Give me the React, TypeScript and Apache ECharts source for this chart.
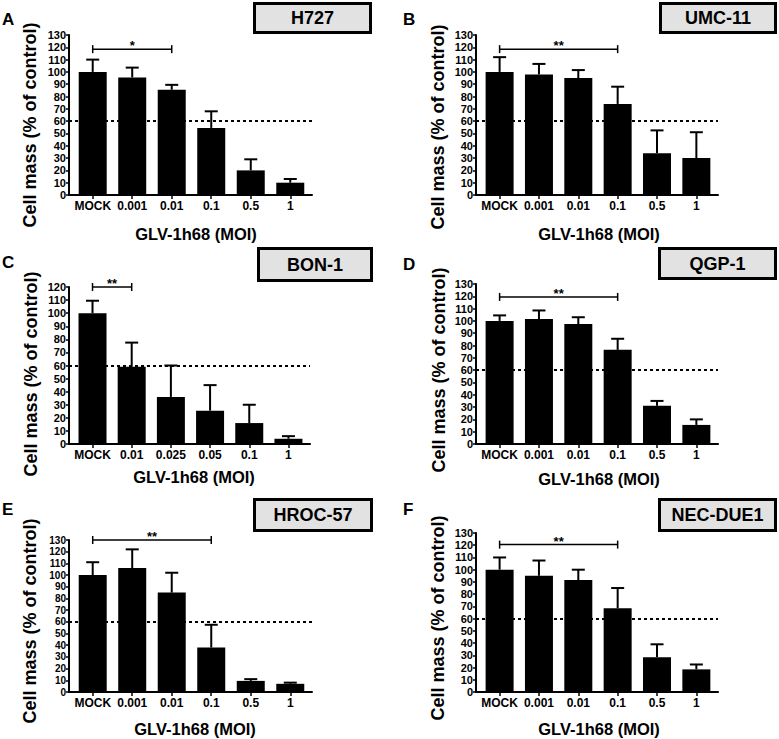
import React, { useEffect, useRef } from 'react';
import * as echarts from 'echarts';

const catsMOI = ['MOCK', '0.001', '0.01', '0.1', '0.5', '1'];
const catsBON1 = ['MOCK', '0.01', '0.025', '0.05', '0.1', '1'];

const yTicks130 = [0, 10, 20, 30, 40, 50, 60, 70, 80, 90, 100, 110, 120, 130];
const yTicks120 = [0, 10, 20, 30, 40, 50, 60, 70, 80, 90, 100, 110, 120];

const h727Mean = [100, 95.5, 85.5, 54.5, 20, 10];
const h727Err = [10, 8, 4, 13.5, 9, 3];
const umc11Mean = [100, 98, 95, 74, 34, 30];
const umc11Err = [12, 8.5, 6.5, 14, 18.5, 21];
const bon1Mean = [100, 59, 36, 25.5, 16, 4];
const bon1Err = [9.5, 18.5, 24, 19.5, 14, 2];
const qgp1Mean = [100, 101.5, 97.5, 76.5, 31, 15.5];
const qgp1Err = [4.5, 7, 5.5, 9, 4, 4.5];
const hroc57Mean = [100, 106, 85, 38, 9.5, 7];
const hroc57Err = [11, 16, 17, 19.5, 1.5, 1];
const necdue1Mean = [100, 95, 91.5, 68.5, 28.5, 18.5];
const necdue1Err = [10, 12.5, 8.5, 16.5, 10.5, 4];

const cellLines = ['H727', 'UMC-11', 'BON-1', 'QGP-1', 'HROC-57', 'NEC-DUE1'];
const panelLetters = ['A', 'B', 'C', 'D', 'E', 'F'];
const sigLabels = ['*', '**', '**', '**', '**', '**'];
const sigFrom = [0, 0, 0, 0, 0, 0];
const sigTo = [2, 3, 1, 3, 3, 3];
const sigLevel = [118.5, 118.5, 120, 119.5, 130, 120.5];
const threshold = 60;
const xTitle = 'GLV-1h68 (MOI)';
const yTitle = 'Cell mass (% of control)';

const means = [h727Mean, umc11Mean, bon1Mean, qgp1Mean, hroc57Mean, necdue1Mean];
const errs = [h727Err, umc11Err, bon1Err, qgp1Err, hroc57Err, necdue1Err];
const cats = [catsMOI, catsMOI, catsBON1, catsMOI, catsMOI, catsMOI];
const yTicks = [yTicks130, yTicks130, yTicks120, yTicks130, yTicks130, yTicks130];

const layouts = [
  { left: 69, top: 35, width: 243, height: 160, box: [253, 2, 372, 34], letter: [2, 19], yt: [30, 125], xt: [196, 234], yFont: 11 },
  { left: 476, top: 35, width: 242, height: 160, box: [659, 2, 777, 34], letter: [403, 19], yt: [438, 127], xt: [599, 234], yFont: 11 },
  { left: 69, top: 287, width: 241, height: 157, box: [257, 247, 373, 282], letter: [2, 262], yt: [31, 374], xt: [194, 477], yFont: 11 },
  { left: 476, top: 284, width: 242, height: 160, box: [658, 247, 777, 280], letter: [403, 264], yt: [439, 370], xt: [599, 479], yFont: 11 },
  { left: 69, top: 540, width: 243, height: 152, box: [253, 498, 373, 532], letter: [2, 509], yt: [30, 621], xt: [195, 729], yFont: 10 },
  { left: 476, top: 533, width: 242, height: 159, box: [658, 498, 777, 532], letter: [403, 509], yt: [438, 618], xt: [599, 729], yFont: 11 },
];

const FONT = '"Liberation Sans", Arial, Helvetica, sans-serif';

function buildOption() {
  const grid: any[] = [];
  const xAxis: any[] = [];
  const yAxis: any[] = [];
  const series: any[] = [];
  const graphic: any[] = [];

  layouts.forEach((L, p) => {
    grid.push({ left: L.left, top: L.top, width: L.width, height: L.height, containLabel: false });
    const c = cats[p];
    const idx = c.map((_, i) => i);
    const yt = yTicks[p];
    xAxis.push({
      gridIndex: p,
      type: 'value',
      min: -0.6,
      max: 5.55,
      splitLine: { show: false },
      axisLine: { show: true, onZero: false, lineStyle: { color: '#000', width: 2 } },
      axisTick: { show: true, customValues: idx, length: 4, lineStyle: { color: '#000', width: 1.5 } },
      axisLabel: {
        customValues: idx,
        formatter: (v: number) => c[Math.round(v)],
        color: '#000',
        fontWeight: 'bold',
        fontSize: 12,
        fontFamily: FONT,
        margin: 5,
        showMinLabel: true,
        showMaxLabel: true,
      },
    });
    yAxis.push({
      gridIndex: p,
      type: 'value',
      min: 0,
      max: yt[yt.length - 1],
      interval: 10,
      splitLine: { show: false },
      axisLine: { show: true, onZero: false, lineStyle: { color: '#000', width: 2 } },
      axisTick: { show: true, interval: 0, customValues: yt, length: 3, lineStyle: { color: '#000', width: 1.5 } },
      axisLabel: {
        customValues: yt,
        interval: 0,
        color: '#000',
        fontWeight: 'bold',
        fontSize: L.yFont,
        lineHeight: 9,
        fontFamily: FONT,
        margin: 3,
        showMinLabel: true,
        showMaxLabel: true,
        hideOverlap: false,
      },
    });
    series.push({
      type: 'bar',
      xAxisIndex: p,
      yAxisIndex: p,
      barWidth: 28,
      itemStyle: { color: '#000' },
      data: means[p].map((m, i) => [i, m]),
      markLine: {
        silent: true,
        symbol: 'none',
        label: { show: false },
        lineStyle: { color: '#000', width: 2, type: [3, 3] },
        data: [{ yAxis: threshold }],
      },
    });
    series.push({
      type: 'custom',
      xAxisIndex: p,
      yAxisIndex: p,
      data: means[p].map((m, i) => [i, m, errs[p][i]]),
      renderItem: (params: any, api: any) => {
        const x = api.value(0);
        const m = api.value(1);
        const e = api.value(2);
        const p0 = api.coord([x, m]);
        const p1 = api.coord([x, m + e]);
        return {
          type: 'group',
          children: [
            { type: 'line', shape: { x1: p0[0], y1: p0[1], x2: p1[0], y2: p1[1] }, style: { stroke: '#000', lineWidth: 2 } },
            { type: 'line', shape: { x1: p1[0] - 6.5, y1: p1[1], x2: p1[0] + 6.5, y2: p1[1] }, style: { stroke: '#000', lineWidth: 2 } },
          ],
        };
      },
    });
    series.push({
      type: 'custom',
      xAxisIndex: p,
      yAxisIndex: p,
      data: [[sigFrom[p], sigTo[p], sigLevel[p]]],
      renderItem: (params: any, api: any) => {
        const a = api.coord([api.value(0), api.value(2)]);
        const b = api.coord([api.value(1), api.value(2)]);
        return {
          type: 'group',
          children: [
            { type: 'line', shape: { x1: a[0], y1: a[1], x2: b[0], y2: b[1] }, style: { stroke: '#000', lineWidth: 1.5 } },
            { type: 'line', shape: { x1: a[0], y1: a[1] - 4, x2: a[0], y2: a[1] + 4 }, style: { stroke: '#000', lineWidth: 1.5 } },
            { type: 'line', shape: { x1: b[0], y1: b[1] - 4, x2: b[0], y2: b[1] + 4 }, style: { stroke: '#000', lineWidth: 1.5 } },
            {
              type: 'text',
              x: (a[0] + b[0]) / 2,
              y: a[1] + 3,
              style: { text: sigLabels[p], fill: '#000', font: `bold 13px ${FONT}`, textAlign: 'center', textVerticalAlign: 'bottom' },
            },
          ],
        };
      },
    });

    const [bx0, by0, bx1, by1] = L.box;
    graphic.push({
      type: 'rect',
      shape: { x: bx0 + 1.5, y: by0 + 1.5, width: bx1 - bx0 - 3, height: by1 - by0 - 3 },
      style: { fill: '#e2e2e2', stroke: '#000', lineWidth: 3 },
    });
    graphic.push({
      type: 'text',
      x: (bx0 + bx1) / 2,
      y: (by0 + by1) / 2,
      style: { text: cellLines[p], fill: '#000', font: `bold 18px ${FONT}`, textAlign: 'center', textVerticalAlign: 'middle' },
    });
    graphic.push({
      type: 'text',
      x: L.letter[0],
      y: L.letter[1],
      style: { text: panelLetters[p], fill: '#000', font: `bold 17px ${FONT}`, textAlign: 'left', textVerticalAlign: 'middle' },
    });
    graphic.push({
      type: 'text',
      x: L.yt[0],
      y: L.yt[1],
      rotation: Math.PI / 2,
      style: { text: yTitle, fill: '#000', font: `bold 18px ${FONT}`, textAlign: 'center', textVerticalAlign: 'middle' },
    });
    graphic.push({
      type: 'text',
      x: L.xt[0],
      y: L.xt[1],
      style: { text: xTitle, fill: '#000', font: `bold 16.5px ${FONT}`, textAlign: 'center', textVerticalAlign: 'middle' },
    });
  });

  return {
    animation: false,
    backgroundColor: '#fff',
    grid,
    xAxis,
    yAxis,
    series,
    graphic,
  };
}

export default function App() {
  const ref = useRef<HTMLDivElement>(null);
  useEffect(() => {
    if (!ref.current) return;
    const chart = echarts.init(ref.current, undefined, { renderer: 'svg' });
    chart.setOption(buildOption() as any);
    return () => chart.dispose();
  }, []);
  return <div ref={ref} style={{ position: 'fixed', left: 0, top: 0, width: 779, height: 739 }} />;
}
